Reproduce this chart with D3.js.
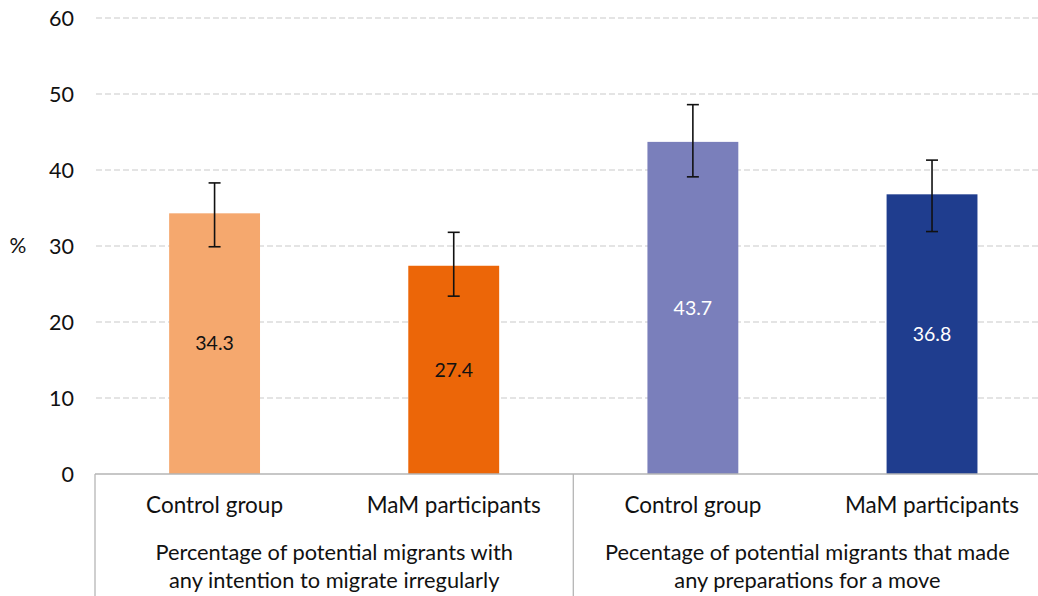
<!DOCTYPE html>
<html>
<head>
<meta charset="utf-8">
<script src="https://cdn.jsdelivr.net/npm/d3@7"></script>
<style>
  html, body { margin: 0; padding: 0; background: #fff; }
  svg { display: block; font-family: Lato, "Open Sans", sans-serif; }
</style>
</head>
<body>
<svg id="chart" width="1038" height="596"></svg>
<script>
const categories = ["Control group", "MaM participants", "Control group", "MaM participants"];
const groups = [
  ["Percentage of potential migrants with", "any intention to migrate irregularly"],
  ["Pecentage of potential migrants that made", "any preparations for a move"]
];
const values = [34.3, 27.4, 43.7, 36.8];
const errLow = [29.9, 23.4, 39.1, 31.9];
const errHigh = [38.3, 31.8, 48.6, 41.3];
const yTicks = [0, 10, 20, 30, 40, 50, 60];
const colors = ["#F5A86E", "#EC6608", "#7A7FBB", "#1F3D8E"];
const labelColors = ["#111", "#111", "#fff", "#fff"];

const svg = d3.select("#chart");
const mLeft = 95, mRight = 1051.6, mTop = 18, mBottom = 474;

const keys = categories.map((c, i) => i);
const x = d3.scaleBand().domain(keys).range([mLeft, mRight]).paddingInner(0.62).paddingOuter(0.31);
const y = d3.scaleLinear().domain([0, 60]).range([mBottom, mTop]);

// gridlines
svg.append("g").selectAll("line").data(yTicks.filter(t => t > 0)).join("line")
  .attr("x1", mLeft + 1).attr("x2", 1038)
  .attr("y1", d => y(d)).attr("y2", d => y(d))
  .attr("stroke", "#c9c9c9").attr("stroke-width", 1).attr("stroke-dasharray", "6,3");

// y axis tick labels
const yAxis = d3.axisLeft(y).tickValues(yTicks).tickSize(0).tickPadding(0);
const yg = svg.append("g").attr("transform", `translate(${mLeft - 21},0)`).call(yAxis);
yg.select(".domain").remove();
yg.selectAll("text").attr("font-size", 21.5).attr("fill", "#111").attr("font-family", "Lato, sans-serif").attr("dy", "0.35em");

svg.append("text").attr("x", 18).attr("y", y(30)).attr("dy", "0.35em")
  .attr("text-anchor", "middle").attr("font-size", 21).attr("fill", "#111").text("%");

// bars
svg.append("g").selectAll("rect").data(values).join("rect")
  .attr("x", (d, i) => x(i)).attr("width", x.bandwidth())
  .attr("y", d => y(d)).attr("height", d => y(0) - y(d))
  .attr("fill", (d, i) => colors[i]);

// value labels
svg.append("g").selectAll("text").data(values).join("text")
  .attr("x", (d, i) => x(i) + x.bandwidth() / 2)
  .attr("y", d => (y(d) + y(0)) / 2).attr("dy", "0.35em")
  .attr("text-anchor", "middle").attr("font-size", 19.5)
  .attr("fill", (d, i) => labelColors[i]).text(d => d.toFixed(1));

// error bars
const eb = svg.append("g").attr("stroke", "#111").attr("stroke-width", 1.6);
values.forEach((v, i) => {
  const cx = x(i) + x.bandwidth() / 2;
  eb.append("line").attr("x1", cx).attr("x2", cx).attr("y1", y(errLow[i])).attr("y2", y(errHigh[i]));
  eb.append("line").attr("x1", cx - 6).attr("x2", cx + 6).attr("y1", y(errLow[i])).attr("y2", y(errLow[i]));
  eb.append("line").attr("x1", cx - 6).attr("x2", cx + 6).attr("y1", y(errHigh[i])).attr("y2", y(errHigh[i]));
});

// category axis box
const step = x.step();
const groupStart = [mLeft, mLeft + 2 * step];
svg.append("line").attr("x1", mLeft).attr("x2", 1038).attr("y1", mBottom).attr("y2", mBottom)
  .attr("stroke", "#b5b5b5").attr("stroke-width", 1.3);
groupStart.forEach(gx => {
  svg.append("line").attr("x1", gx).attr("x2", gx).attr("y1", mBottom).attr("y2", 596)
    .attr("stroke", "#b5b5b5").attr("stroke-width", 1.3);
});

// category labels
svg.append("g").selectAll("text").data(categories).join("text")
  .attr("x", (d, i) => x(i) + x.bandwidth() / 2).attr("y", 505).attr("dy", "0.35em")
  .attr("text-anchor", "middle").attr("font-size", 22.5).attr("fill", "#111").text(d => d);

// group labels
groups.forEach((lines, g) => {
  const cx = groupStart[g] + step - (g === 1 ? 5 : 0);
  lines.forEach((t, k) => {
    svg.append("text").attr("x", cx).attr("y", 552 + k * 28).attr("dy", "0.35em")
      .attr("text-anchor", "middle").attr("font-size", 21.8).attr("fill", "#111").text(t);
  });
});
</script>
</body>
</html>
